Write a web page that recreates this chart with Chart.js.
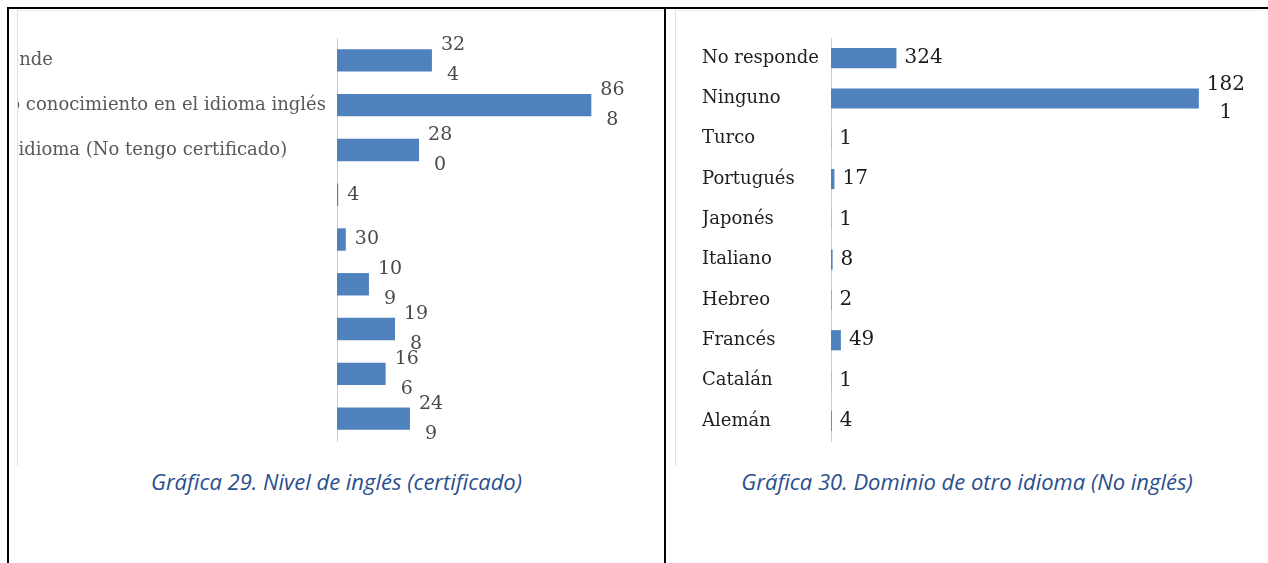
<!DOCTYPE html>
<html>
<head>
<meta charset="utf-8">
<script src="https://cdn.jsdelivr.net/npm/chart.js@4"></script>
<style>
body { margin:0; width:1268px; height:563px; background:#fff; position:relative; overflow:hidden; }
.line { position:absolute; background:#000; }
.img { position:absolute; overflow:hidden; background:#fff; border-left:1px solid #e0e0e0; border-top:1px solid #eeeeee; }
.cv { position:absolute; top:0; }
.caption { position:absolute; top:466px; font-family:'Open Sans'; font-style:italic; font-size:22px; line-height:30px; color:#2a4f8c; text-align:center; }
</style>
</head>
<body>
<div class="line" style="left:7px;top:7px;width:1261px;height:2px"></div>
<div class="line" style="left:7px;top:7px;width:2px;height:556px"></div>
<div class="line" style="left:664px;top:7px;width:2px;height:556px"></div>

<div class="img" style="left:17px;top:10px;width:646px;height:455px">
  <div class="cv" style="left:-82px;width:694px;height:455px"><canvas id="c29"></canvas></div>
</div>
<div class="img" style="left:675px;top:10px;width:586px;height:455px">
  <div class="cv" style="left:26px;width:593px;height:455px"><canvas id="c30"></canvas></div>
</div>

<div class="caption" style="left:9px;width:655px">Gráfica 29. Nivel de inglés (certificado)</div>
<div class="caption" style="left:666px;width:602px">Gráfica 30. Dominio de otro idioma (No inglés)</div>

<script>
// Gráfica 29 - nivel de inglés (las etiquetas de las filas 4-9 quedan fuera del recorte)
const niveles = ['No responde', 'No tengo conocimiento en el idioma inglés', 'Hablo el idioma (No tengo certificado)', '', '', '', '', '', ''];
const nivelesValores = [324, 868, 280, 4, 30, 109, 198, 166, 249];

// Gráfica 30 - otro idioma
const idiomas = ['No responde', 'Ninguno', 'Turco', 'Portugués', 'Japonés', 'Italiano', 'Hebreo', 'Francés', 'Catalán', 'Alemán'];
const idiomasValores = [324, 1821, 1, 17, 1, 8, 2, 49, 1, 4];

const barColor = '#4f81bd';

// etiquetas de valor, partidas en dos líneas como en el documento original
const valueLabels = {
    id: 'valueLabels',
    afterDatasetsDraw(chart, args, o) {
        const ctx = chart.ctx;
        const meta = chart.getDatasetMeta(0);
        ctx.save();
        ctx.font = o.font;
        ctx.fillStyle = o.color;
        ctx.textBaseline = 'middle';
        ctx.textAlign = 'center';
        meta.data.forEach((bar, i) => {
            const txt = String(chart.data.datasets[0].data[i]);
            const lines = txt.length > o.wrapAt ? [txt.slice(0, o.wrapAt), txt.slice(o.wrapAt)] : [txt];
            const cx = bar.x + o.offset + ctx.measureText(lines[0]).width / 2;
            lines.forEach((l, k) => {
                ctx.fillText(l, cx, bar.y + (k - (lines.length - 1) / 2) * o.lineHeight);
            });
        });
        ctx.restore();
    }
};

function crearGrafico(id, labels, values, opt) {
    return new Chart(document.getElementById(id), {
        type: 'bar',
        data: {
            labels: labels,
            datasets: [{ data: values, backgroundColor: barColor, barPercentage: 0.5, categoryPercentage: 1 }]
        },
        options: {
            indexAxis: 'y',
            responsive: true,
            maintainAspectRatio: false,
            animation: false,
            layout: { padding: { top: 27, bottom: 25, left: 0, right: opt.padRight } },
            plugins: {
                legend: { display: false },
                tooltip: { enabled: false },
                valueLabels: opt.labels
            },
            scales: {
                x: { display: false, min: 0, max: opt.max },
                y: {
                    afterFit: s => { s.width = opt.axisWidth; },
                    grid: { display: false, drawTicks: false },
                    border: { color: '#cfcfcf', width: 1 },
                    ticks: { crossAlign: 'far', padding: 0, color: opt.tickColor, font: { family: 'DejaVu Serif', size: 18 } }
                }
            }
        },
        plugins: [valueLabels]
    });
}

crearGrafico('c29', niveles, nivelesValores, {
    max: 1000, axisWidth: 401, padRight: 0, tickColor: '#595959',
    labels: { font: '19px "DejaVu Serif"', color: '#4a4a4a', wrapAt: 2, offset: 9, lineHeight: 30 }
});

crearGrafico('c30', idiomas, idiomasValores, {
    max: 2000, axisWidth: 129, padRight: 60, tickColor: '#1e1e1e',
    labels: { font: '20px "DejaVu Serif"', color: '#1e1e1e', wrapAt: 3, offset: 8, lineHeight: 28 }
});
</script>
</body>
</html>
